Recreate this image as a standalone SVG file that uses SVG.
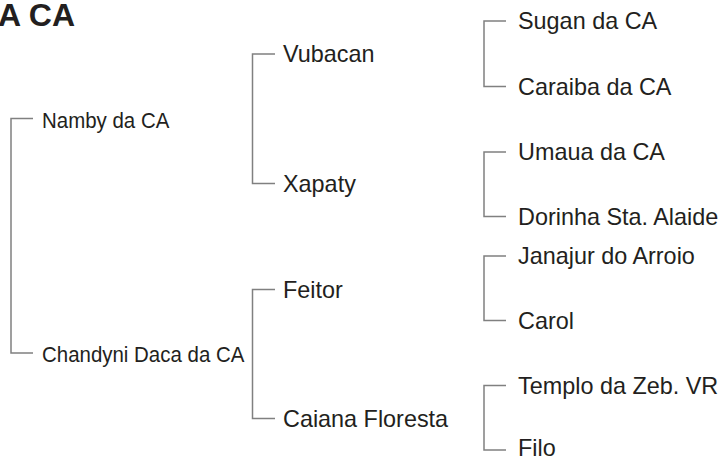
<svg xmlns="http://www.w3.org/2000/svg" width="720" height="456" viewBox="0 0 720 456">
<style>
.t{font-family:"Liberation Sans",Arial,sans-serif;fill:#231f20}
.l1{font-size:22px}
.l2{font-size:23.4px}
.title{font-size:32px;font-weight:bold}
.c{fill:none;stroke:#808080;stroke-width:1.5}
</style>
<rect width="720" height="456" fill="#fff"/>
<text class="t title" x="-2" y="26">A CA</text>
<g id="connectors">
<path class="c" d="M33 118.5H11V353H33"/>
<path class="c" d="M275 54H252.5V183.5H275"/>
<path class="c" d="M275 289.5H252.5V418.5H275"/>
<path class="c" d="M506 21H484V86.5H506"/>
<path class="c" d="M506 152H484V216.5H506"/>
<path class="c" d="M506 256H484V320.5H506"/>
<path class="c" d="M506 385.5H484V450H506"/>
</g>
<g id="namby"><text class="t l1" transform="translate(42 128) scale(0.93 1)">Namby da CA</text></g>
<g id="chandyni"><text class="t l1" transform="translate(42 362) scale(0.93 1)">Chandyni Daca da CA</text></g>
<g id="vubacan"><text class="t l2" x="283" y="62">Vubacan</text></g>
<g id="xapaty"><text class="t l2" x="283" y="191.5">Xapaty</text></g>
<g id="feitor"><text class="t l2" x="283" y="297.5">Feitor</text></g>
<g id="caiana"><text class="t l2" x="283" y="426.5">Caiana Floresta</text></g>
<g id="sugan"><text class="t l2" x="518" y="29">Sugan da CA</text></g>
<g id="caraiba"><text class="t l2" x="518" y="94.5">Caraiba da CA</text></g>
<g id="umaua"><text class="t l2" x="518" y="160">Umaua da CA</text></g>
<g id="dorinha"><text class="t l2" x="518" y="224.5">Dorinha Sta. Alaide</text></g>
<g id="janajur"><text class="t l2" x="518" y="264">Janajur do Arroio</text></g>
<g id="carol"><text class="t l2" x="518" y="328.5">Carol</text></g>
<g id="templo"><text class="t l2" x="518" y="393.5">Templo da Zeb. VR</text></g>
<g id="filo"><text class="t l2" x="518" y="456">Filo</text></g>
</svg>
